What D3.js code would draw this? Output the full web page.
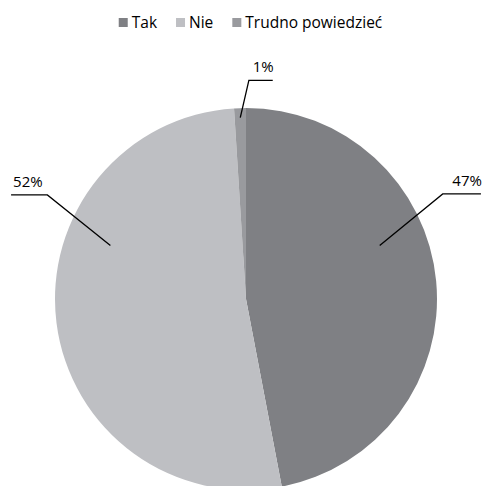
<!DOCTYPE html>
<html>
<head>
<meta charset="utf-8">
<script src="https://cdn.jsdelivr.net/npm/d3@7"></script>
<style>
  body { margin: 0; background: #fff; }
  text { font-family: "Open Sans", sans-serif; fill: #000; }
</style>
</head>
<body>
<div id="chart"></div>
<script>
// data
var categories = ["Tak", "Nie", "Trudno powiedzieć"];
var values = [47, 52, 1];
var labels = ["47%", "52%", "1%"];
var colors = ["#7f8084", "#bebfc3", "#999a9e"];

var width = 482, height = 486;
var cx = 246, cy = 299, radius = 191;

// leader line layout, in units of radius, relative to centre
var leaders = [
  {inner: [0.70, -0.28], elbow: [1.03, -0.55], end: [1.23, -0.55], anchor: "end"},
  {inner: [-0.71, -0.28], elbow: [-1.04, -0.545], end: [-1.23, -0.545], anchor: "start"},
  {inner: [-0.03, -0.95], elbow: [0.015, -1.145], end: [0.14, -1.145], anchor: "end"}
];

var svg = d3.select("#chart").append("svg")
  .attr("width", width)
  .attr("height", height);

var pie = d3.pie().sort(null).value(function(d) { return d; });
var arc = d3.arc().innerRadius(0).outerRadius(radius);

var g = svg.append("g").attr("transform", "translate(" + cx + "," + cy + ")");

g.selectAll("path.slice")
  .data(pie(values))
  .enter().append("path")
  .attr("class", "slice")
  .attr("d", arc)
  .attr("fill", function(d, i) { return colors[i]; });

var r = d3.scaleLinear().domain([0, 1]).range([0, radius]);

g.selectAll("polyline.leader")
  .data(leaders)
  .enter().append("polyline")
  .attr("class", "leader")
  .attr("fill", "none")
  .attr("stroke", "#000")
  .attr("stroke-width", 1.3)
  .attr("points", function(d) {
    return [d.inner, d.elbow, d.end].map(function(p) { return r(p[0]) + "," + r(p[1]); }).join(" ");
  });

g.selectAll("text.lbl")
  .data(leaders)
  .enter().append("text")
  .attr("class", "lbl")
  .attr("x", function(d) { return r(d.end[0]) + (d.anchor == "end" ? 1 : 2); })
  .attr("y", function(d) { return r(d.end[1]) - 8; })
  .attr("text-anchor", function(d) { return d.anchor; })
  .style("font-size", "15px")
  .text(function(d, i) { return labels[i]; });

// legend, centred on the chart
var legend = svg.append("g");
var lx = 0;
categories.forEach(function(c, i) {
  var item = legend.append("g");
  item.append("rect")
    .attr("x", lx).attr("y", 18)
    .attr("width", 9).attr("height", 9)
    .attr("fill", colors[i]);
  var t = item.append("text")
    .attr("x", lx + 13).attr("y", 28)
    .style("font-size", "15.5px")
    .text(c);
  lx += 13 + t.node().getComputedTextLength() + (i < categories.length - 1 ? 19 : 0);
});
legend.attr("transform", "translate(" + (250.5 - lx / 2) + ",0)");
</script>
</body>
</html>
